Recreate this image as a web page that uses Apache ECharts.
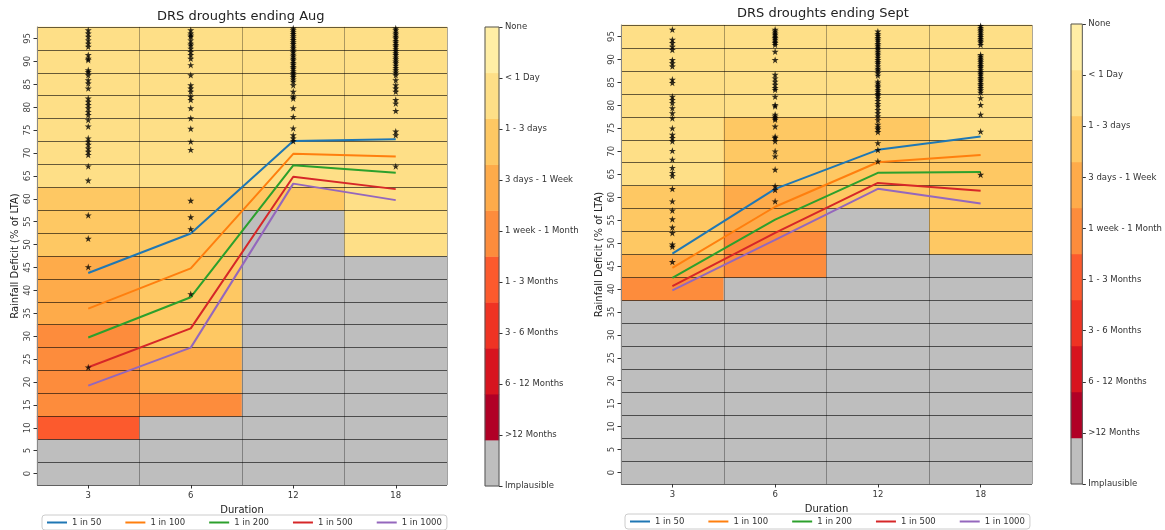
<!DOCTYPE html>
<html>
<head>
<meta charset="utf-8">
<script src="https://cdn.jsdelivr.net/npm/echarts@6/dist/echarts.min.js"></script>
<style>
  html, body { margin: 0; padding: 0; background: #fff; }
  #chart { width: 1165px; height: 530px; }
</style>
</head>
<body>
<div id="chart"></div>
<script>
// ---- categories and tick labels ----
const durations = ['3', '6', '12', '18'];
const deficitTicks = ['0', '5', '10', '15', '20', '25', '30', '35', '40', '45',
                      '50', '55', '60', '65', '70', '75', '80', '85', '90', '95'];
const severityLabels = ['Implausible', '>12 Months', '6 - 12 Months', '3 - 6 Months', '1 - 3 Months',
                        '1 week - 1 Month', '3 days - 1 Week', '1 - 3 days', '< 1 Day', 'None'];
const severityColors = ['#bebebe', '#b10026', '#d7141f', '#ef3323', '#fc5a2d',
                        '#fd8c3c', '#feab4a', '#fec863', '#fedf87', '#ffeea5'];
const returnPeriods = ['1 in 50', '1 in 100', '1 in 200', '1 in 500', '1 in 1000'];
const periodColors = ['#1f77b4', '#ff7f0e', '#2ca02c', '#d62728', '#9467bd'];

// ---- severity class per cell (index into severityLabels), rows from 0% up to 95% ----
const augCells3  = [0,0,4,5,5,5,5,6,6,6,7,7,7,8,8,8,8,8,8,8];
const augCells6  = [0,0,0,5,6,6,7,7,7,7,7,7,7,8,8,8,8,8,8,8];
const augCells12 = [0,0,0,0,0,0,0,0,0,0,0,0,7,8,8,8,8,8,8,8];
const augCells18 = [0,0,0,0,0,0,0,0,0,0,8,8,8,8,8,8,8,8,8,8];

const sepCells3  = [0,0,0,0,0,0,0,0,5,6,7,7,7,8,8,8,8,8,8,8];
const sepCells6  = [0,0,0,0,0,0,0,0,0,5,5,6,6,7,7,7,8,8,8,8];
const sepCells12 = [0,0,0,0,0,0,0,0,0,0,0,0,7,7,7,7,8,8,8,8];
const sepCells18 = [0,0,0,0,0,0,0,0,0,0,7,7,7,7,7,8,8,8,8,8];

// ---- return-period deficit curves (% of LTA) at durations 3, 6, 12, 18 ----
const augP50   = [43.8, 52.4, 72.6, 73.0];
const augP100  = [36.0, 44.8, 69.8, 69.2];
const augP200  = [29.7, 38.5, 67.3, 65.7];
const augP500  = [23.2, 31.7, 64.8, 62.1];
const augP1000 = [19.2, 27.5, 63.3, 59.7];

const sepP50   = [47.7, 61.8, 70.3, 73.2];
const sepP100  = [44.6, 57.9, 67.6, 69.2];
const sepP200  = [42.4, 55.1, 65.3, 65.5];
const sepP500  = [40.6, 52.2, 63.1, 61.4];
const sepP1000 = [39.7, 50.7, 61.8, 58.6];

// ---- observed droughts (% of LTA) per duration ----
const augObs3 = [96.8, 96.1, 95.4, 94.6, 93.9, 93.2, 91.4, 90.6, 90.3, 88.1, 87.7, 87.0, 85.9, 85.2, 84.1,
                 81.9, 81.2, 80.5, 79.8, 79.0, 78.3, 77.2, 75.8, 73.2, 72.5, 71.8, 71.0, 70.3, 69.6, 67.1,
                 64.0, 56.4, 51.3, 45.1, 23.2];
const augObs6 = [96.8, 96.1, 95.7, 95.4, 94.6, 93.9, 93.5, 92.8, 92.1, 91.4, 90.6, 89.2, 87.0, 84.8, 84.1,
                 83.4, 82.3, 81.6, 79.8, 77.6, 75.3, 72.5, 70.7, 59.6, 56.0, 53.4, 39.2];
const augObs12 = [97.2, 96.8, 96.4, 96.0, 95.5, 95.1, 94.7, 94.2, 93.8, 93.3, 92.9, 92.4, 92.0, 91.5, 91.1,
                  90.6, 90.2, 89.7, 89.3, 88.8, 88.4, 87.9, 87.5, 87.0, 86.6, 86.1, 85.6, 84.8, 83.4, 82.3,
                  81.9, 79.8, 77.9, 75.4, 73.9, 73.2, 72.6];
const augObs18 = [97.2, 96.8, 96.3, 95.9, 95.4, 95.0, 94.5, 94.1, 93.6, 93.2, 92.7, 92.3, 91.8, 91.4, 90.9,
                  90.5, 90.0, 89.6, 89.1, 88.6, 88.1, 87.6, 87.0, 85.9, 84.8, 84.1, 83.4, 81.6, 80.8, 79.2,
                  74.7, 73.9, 67.1];

const sepObs3 = [96.5, 94.3, 93.6, 92.8, 92.1, 89.9, 89.2, 88.5, 85.6, 84.9, 81.9, 81.2, 80.5, 79.4, 78.3,
                 77.2, 75.0, 73.6, 72.9, 72.2, 70.1, 68.2, 66.4, 65.3, 64.6, 61.8, 59.1, 57.1, 55.2, 53.4,
                 52.2, 49.7, 49.2, 45.9];
const sepObs6 = [96.5, 96.1, 95.7, 95.4, 95.0, 94.7, 94.3, 93.9, 93.6, 93.2, 91.7, 89.9, 86.7, 85.9, 85.2,
                 84.5, 83.8, 83.4, 81.9, 80.1, 79.8, 78.0, 77.6, 77.2, 76.9, 75.4, 73.2, 72.9, 72.2, 70.0,
                 68.9, 66.0, 62.4, 61.6, 59.1];
const sepObs12 = [96.1, 95.6, 95.2, 94.7, 94.3, 93.9, 93.4, 93.0, 92.6, 92.2, 91.7, 91.3, 90.9, 90.4, 89.9,
                  89.5, 89.1, 88.5, 88.0, 87.6, 87.0, 86.5, 85.2, 84.8, 84.3, 83.9, 83.4, 83.0, 82.5, 82.1,
                  81.6, 81.0, 80.3, 79.8, 79.0, 78.3, 77.6, 76.8, 75.8, 75.2, 74.8, 74.2, 71.8, 70.3, 67.8];
const sepObs18 = [97.3, 96.9, 96.5, 96.1, 95.7, 95.3, 94.9, 94.5, 94.1, 93.7, 93.2, 91.0, 90.6, 90.2, 89.8,
                  89.4, 89.0, 88.6, 88.2, 87.7, 87.3, 86.9, 86.5, 86.0, 85.6, 85.2, 84.7, 84.3, 83.8, 83.3,
                  82.8, 81.6, 80.1, 78.0, 74.3, 64.9];

// ---- drawing ----
const FONT = 'DejaVu Sans';
const STAR = 'path://M50,0L61.2,34.5L97.6,34.5L68.2,55.9L79.4,90.5L50,69.1L20.6,90.5L31.8,55.9L2.4,34.5L38.8,34.5Z';

const panels = [
  {
    title: 'DRS droughts ending Aug', titleLeft: 157, titleTop: 10,
    cells: [augCells3, augCells6, augCells12, augCells18],
    curves: [augP50, augP100, augP200, augP500, augP1000],
    obs: [augObs3, augObs6, augObs12, augObs18],
    plot: { left: 37, top: 27, width: 410, height: 458 },
    bar: { left: 485, top: 27, width: 14, height: 459 },
    legend: { left: 42, top: 515 }
  },
  {
    title: 'DRS droughts ending Sept', titleLeft: 737, titleTop: 7,
    cells: [sepCells3, sepCells6, sepCells12, sepCells18],
    curves: [sepP50, sepP100, sepP200, sepP500, sepP1000],
    obs: [sepObs3, sepObs6, sepObs12, sepObs18],
    plot: { left: 621, top: 25, width: 411, height: 459 },
    bar: { left: 1071, top: 24, width: 13, height: 460 },
    legend: { left: 625, top: 514 }
  }
];

const option = {
  animation: false,
  backgroundColor: '#fff',
  textStyle: { fontFamily: FONT },
  title: [], grid: [], xAxis: [], yAxis: [], legend: [], series: [],
  visualMap: null
};
const heatmapSeries = [];

panels.forEach((p) => {
  // main plot grid
  const g = option.grid.length;
  option.grid.push(Object.assign({ containLabel: false }, p.plot));
  const xi = option.xAxis.length;
  option.xAxis.push({
    gridIndex: g, type: 'category', data: durations, boundaryGap: true, z: 3, position: 'bottom',
    axisLine: { show: false, onZero: false },
    axisTick: { show: true, alignWithLabel: true, length: 3.5, lineStyle: { color: '#333' } },
    axisLabel: { fontFamily: FONT, fontSize: 8.5, color: '#333', margin: 6 },
    splitLine: { show: true, lineStyle: { color: 'rgba(0,0,0,0.32)', width: 1 } },
    name: 'Duration', nameLocation: 'middle', nameGap: 20,
    nameTextStyle: { fontFamily: FONT, fontSize: 10, color: '#222' }
  });
  const yCat = option.yAxis.length;
  option.yAxis.push({
    gridIndex: g, type: 'category', data: deficitTicks, boundaryGap: true, z: 3, position: 'left',
    axisLine: { show: true, onZero: false, lineStyle: { color: '#888' } },
    axisTick: { show: true, alignWithLabel: true, interval: 0, length: 3.5, lineStyle: { color: '#333' } },
    axisLabel: { interval: 0, rotate: 90, fontFamily: FONT, fontSize: 8.5, color: '#444', margin: 5 },
    splitLine: { show: true, interval: 0, lineStyle: { color: 'rgba(0,0,0,0.6)', width: 1 } },
    name: 'Rainfall Deficit (% of LTA)', nameLocation: 'middle', nameGap: 17, nameRotate: 90,
    nameTextStyle: { fontFamily: FONT, fontSize: 10, color: '#222' }
  });
  const yVal = option.yAxis.length;
  option.yAxis.push({ gridIndex: g, type: 'value', min: -2.5, max: 97.5, show: false });

  // severity cells
  const cellData = [];
  p.cells.forEach((col, ci) => col.forEach((cls, ri) => cellData.push([ci, ri, cls])));
  heatmapSeries.push(option.series.length);
  option.series.push({
    type: 'heatmap', xAxisIndex: xi, yAxisIndex: yCat, data: cellData, z: 1, silent: true
  });

  // return-period curves
  p.curves.forEach((vals, k) => {
    option.series.push({
      type: 'line', name: returnPeriods[k], xAxisIndex: xi, yAxisIndex: yVal,
      data: vals, symbol: 'none', z: 5, silent: true,
      lineStyle: { width: 2, color: periodColors[k] }, itemStyle: { color: periodColors[k] }
    });
  });

  // observed droughts
  const obsData = [];
  p.obs.forEach((vals, ci) => vals.forEach(v => obsData.push([durations[ci], v])));
  option.series.push({
    type: 'scatter', xAxisIndex: xi, yAxisIndex: yVal, data: obsData,
    symbol: STAR, symbolSize: 7, itemStyle: { color: '#000' }, z: 6, silent: true
  });

  // colour bar
  const gb = option.grid.length;
  option.grid.push(Object.assign({
    show: true, backgroundColor: 'transparent', borderColor: '#555', borderWidth: 1, z: 4
  }, p.bar));
  const xb = option.xAxis.length;
  option.xAxis.push({ gridIndex: gb, type: 'category', data: ['severity'], show: false });
  const ybCat = option.yAxis.length;
  option.yAxis.push({ gridIndex: gb, type: 'category', data: severityLabels, show: false });
  option.yAxis.push({
    gridIndex: gb, type: 'value', position: 'right', min: 0, max: severityLabels.length - 1, interval: 1,
    axisLine: { show: false },
    axisTick: { show: true, length: 3.5, lineStyle: { color: '#333' } },
    axisLabel: { fontFamily: FONT, fontSize: 8.5, color: '#333', margin: 6,
                 formatter: (v) => severityLabels[Math.round(v)] },
    splitLine: { show: false }
  });
  heatmapSeries.push(option.series.length);
  option.series.push({
    type: 'heatmap', xAxisIndex: xb, yAxisIndex: ybCat, silent: true, z: 1,
    data: severityLabels.map((_, k) => [0, k, k])
  });

  option.title.push({
    text: p.title, left: p.titleLeft, top: p.titleTop, padding: 0,
    textStyle: { fontFamily: FONT, fontSize: 13, fontWeight: 'normal', color: '#222' }
  });

  option.legend.push({
    left: p.legend.left, top: p.legend.top,
    data: returnPeriods.map((n) => ({ name: n, icon: 'rect' })),
    itemWidth: 20, itemHeight: 2, itemGap: 24,
    textStyle: { fontFamily: FONT, fontSize: 8.5, color: '#333' },
    borderColor: '#ccc', borderWidth: 1, borderRadius: 3, padding: [3, 5],
    selectedMode: false
  });
});

option.visualMap = {
  type: 'piecewise', show: false, dimension: 2, seriesIndex: heatmapSeries,
  pieces: severityColors.map((c, k) => ({ value: k, color: c }))
};

const chart = echarts.init(document.getElementById('chart'), null, { renderer: 'canvas' });
chart.setOption(option);
</script>
</body>
</html>
